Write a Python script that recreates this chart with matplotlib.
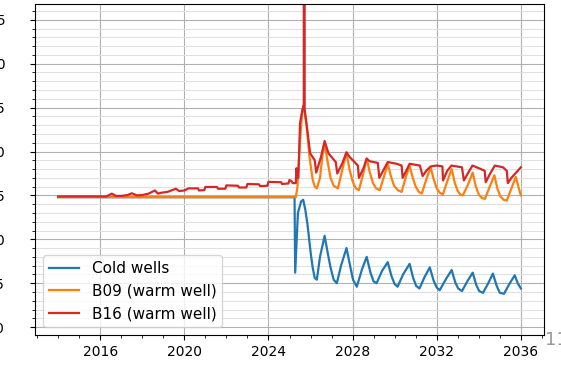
import matplotlib
matplotlib.use("Agg")
import matplotlib.pyplot as plt
from matplotlib.ticker import MultipleLocator

# Cold wells (tijd in jaren, temperatuur)
t_cold = [2014.0, 2025.24, 2025.27, 2025.4, 2025.55, 2025.65, 2025.75, 2025.85, 2026.0, 2026.1,
          2026.2, 2026.3, 2026.45, 2026.67, 2026.82, 2026.95, 2027.1, 2027.25, 2027.45, 2027.71,
          2027.88, 2028.02, 2028.2, 2028.45, 2028.67, 2028.85, 2029.0, 2029.14, 2029.4, 2029.67,
          2029.85, 2030.0, 2030.14, 2030.4, 2030.71, 2030.88, 2031.02, 2031.18, 2031.42, 2031.67,
          2031.85, 2032.0, 2032.14, 2032.42, 2032.71, 2032.88, 2033.02, 2033.2, 2033.45, 2033.71,
          2033.88, 2034.02, 2034.2, 2034.45, 2034.67, 2034.85, 2035.0, 2035.2, 2035.45, 2035.71,
          2035.85, 2036.0]
v_cold = [12.4, 12.4, 8.1, 11.5, 12.15, 12.25, 11.7, 10.9, 9.3, 8.4,
          7.8, 7.7, 9.0, 10.2, 9.2, 8.4, 7.7, 7.5, 8.5, 9.5,
          8.5, 7.7, 7.3, 8.3, 9.0, 8.1, 7.6, 7.5, 8.2, 8.7,
          7.9, 7.45, 7.3, 8.0, 8.6, 7.8, 7.35, 7.2, 7.85, 8.4,
          7.65, 7.25, 7.1, 7.7, 8.25, 7.55, 7.2, 7.05, 7.6, 8.1,
          7.4, 7.05, 6.95, 7.5, 8.05, 7.35, 6.95, 6.9, 7.45, 7.95,
          7.5, 7.2]

# B09 (warm well)
t_b09 = [2014.0, 2025.3, 2025.38, 2025.5, 2025.6, 2025.67, 2025.8, 2025.95, 2026.1, 2026.2,
         2026.3, 2026.45, 2026.58, 2026.67, 2026.8, 2026.95, 2027.1, 2027.3, 2027.5, 2027.7,
         2027.85, 2028.0, 2028.15, 2028.3, 2028.5, 2028.67, 2028.82, 2028.97, 2029.12, 2029.29,
         2029.5, 2029.67, 2029.82, 2029.97, 2030.15, 2030.33, 2030.52, 2030.71, 2030.86, 2031.0,
         2031.15, 2031.29, 2031.5, 2031.71, 2031.86, 2032.0, 2032.15, 2032.29, 2032.5, 2032.71,
         2032.86, 2033.0, 2033.12, 2033.24, 2033.48, 2033.71, 2033.86, 2034.0, 2034.15, 2034.29,
         2034.52, 2034.74, 2034.88, 2035.02, 2035.18, 2035.33, 2035.55, 2035.76, 2035.88, 2036.0]
v_b09 = [12.4, 12.4, 13.0, 15.6, 17.2, 17.6, 16.6, 14.7, 13.4, 13.0,
         12.9, 13.5, 14.9, 15.45, 14.5, 13.5, 13.05, 12.9, 13.9, 14.95,
         14.0, 13.3, 12.9, 12.8, 13.7, 14.6, 13.8, 13.2, 12.9, 12.8,
         13.6, 14.3, 13.6, 13.05, 12.8, 12.7, 13.5, 14.2, 13.5, 13.0,
         12.7, 12.6, 13.4, 14.1, 13.4, 12.9, 12.65, 12.55, 13.3, 14.0,
         13.2, 12.75, 12.55, 12.5, 13.1, 13.8, 13.0, 12.55, 12.35, 12.3,
         13.0, 13.65, 12.9, 12.45, 12.25, 12.2, 12.9, 13.55, 13.0, 12.5]

# B16 (warm well)
t_b16 = [2014.0, 2016.3, 2016.55, 2016.75, 2017.0, 2017.3, 2017.5, 2017.75, 2018.0, 2018.3,
         2018.6, 2018.75, 2018.9, 2019.2, 2019.6, 2019.75, 2020.0, 2020.2, 2020.65, 2020.7,
         2020.95, 2021.0, 2021.55, 2021.6, 2021.95, 2022.0, 2022.55, 2022.6, 2022.95, 2023.0,
         2023.55, 2023.6, 2023.95, 2024.0, 2024.6, 2024.65, 2024.95, 2025.0, 2025.1, 2025.15,
         2025.3, 2025.33, 2025.37, 2025.42, 2025.5, 2025.6, 2025.68, 2025.7, 2025.72, 2025.85,
         2025.98, 2026.2, 2026.27, 2026.5, 2026.67, 2026.85, 2027.2, 2027.27, 2027.5, 2027.71,
         2027.85, 2028.25, 2028.3, 2028.5, 2028.67, 2028.8, 2029.2, 2029.27, 2029.45, 2029.67,
         2030.1, 2030.33, 2030.38, 2030.55, 2030.71, 2031.2, 2031.33, 2031.5, 2031.71, 2032.0,
         2032.27, 2032.3, 2032.5, 2032.7, 2033.2, 2033.29, 2033.5, 2033.7, 2034.1, 2034.28,
         2034.33, 2034.52, 2034.76, 2035.15, 2035.33, 2035.38, 2035.55, 2036.0]
v_b16 = [12.44, 12.44, 12.6, 12.47, 12.47, 12.52, 12.62, 12.5, 12.52, 12.6,
         12.78, 12.6, 12.65, 12.7, 12.88, 12.75, 12.78, 12.9, 12.9, 12.78,
         12.8, 12.98, 12.98, 12.88, 12.88, 13.07, 13.05, 12.95, 12.95, 13.15,
         13.13, 13.03, 13.05, 13.27, 13.25, 13.15, 13.18, 13.38, 13.3, 13.2,
         13.2, 14.05, 13.5, 13.5, 16.6, 17.3, 17.7, 200.0, 17.4, 16.2,
         14.9, 14.5, 13.8, 14.7, 15.6, 14.9, 14.4, 13.75, 14.3, 14.95,
         14.7, 14.2, 13.5, 14.0, 14.6, 14.45, 14.35, 13.5, 13.9, 14.4,
         14.3, 14.2, 13.5, 13.9, 14.3, 14.2, 13.6, 13.9, 14.15, 14.2,
         14.15, 13.35, 13.9, 14.2, 14.1, 13.35, 13.8, 14.2, 14.0, 13.9,
         13.25, 13.7, 14.2, 14.1, 13.9, 13.2, 13.5, 14.1]

fig = plt.figure(figsize=(5.61, 3.65), dpi=100)
ax = fig.add_axes([35 / 561, 1 - 335 / 365, 509 / 561, 331 / 365])

ax.plot(t_cold, v_cold, color="tab:blue", lw=1.6, label="Cold wells")
ax.plot(t_b09, v_b09, color="tab:orange", lw=1.6, label="B09 (warm well)")
ax.plot(t_b16, v_b16, color="tab:red", lw=1.6, label="B16 (warm well)")

ax.set_xlim(2012.9, 2037.1)
ax.set_ylim(4.55, 23.4)
ax.xaxis.set_major_locator(MultipleLocator(4))
ax.xaxis.set_minor_locator(MultipleLocator(1))
ax.yaxis.set_major_locator(MultipleLocator(2.5))
ax.yaxis.set_minor_locator(MultipleLocator(0.5))
ax.yaxis.set_major_formatter(lambda v, p: f"{v:.1f}")

ax.grid(True, which="major", color="#b0b0b0", lw=0.8)
ax.grid(True, which="minor", axis="y", color="#e0e0e0", lw=0.7)
ax.set_axisbelow(True)

ax.tick_params(axis="both", labelsize=10)
ax.tick_params(axis="y", which="major", pad=18)

ax.legend(loc="lower left", fontsize=11)

fig.text(0.972, 0.055, "11", color="#999999", fontsize=13)

fig.savefig("out.png", dpi=100)
